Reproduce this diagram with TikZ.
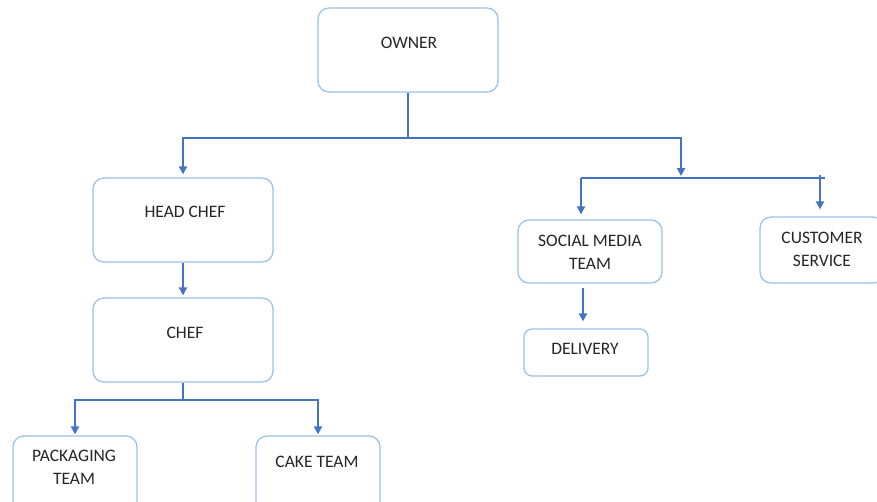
\documentclass[tikz,border=0pt]{standalone}
\usepackage{fontspec}
\setmainfont{Carlito}
\usetikzlibrary{arrows.meta,positioning}
\definecolor{boxline}{RGB}{157,195,230}
\definecolor{conn}{RGB}{68,114,196}
\definecolor{txt}{RGB}{38,38,38}

\begin{document}
\begin{tikzpicture}[
        x=1pt, y=-1pt,
        box/.style={shape=rectangle, draw=boxline, fill=white, line width=1.3pt, rounded corners=11pt},
        lbl/.style={text=txt, font=\fontsize{17.5}{23}\selectfont, align=center, inner sep=0pt},
        link/.style={line width=2pt, conn},
        arr/.style={->, >={Triangle[width=8pt,length=8pt]}, line width=2pt, conn},
        ]
        \fill[white] (0,0) rectangle (877,501);
        \useasboundingbox (0,0) rectangle (877,501);
        \clip (0,0) rectangle (877,501);
        % boxes
        \node(owner)   [box, minimum width=180, minimum height=84] at (408,50){};
        \node(headchef)[box, minimum width=180, minimum height=84] at (183,220){};
        \node(chef)    [box, minimum width=180, minimum height=84] at (183,340){};
        \node(pack)    [box, minimum width=124, minimum height=80] at (75,476){};
        \node(cake)    [box, minimum width=124, minimum height=80] at (318,476){};
        \node(social)  [box, minimum width=144, minimum height=63] at (590,251.5){};
        \node(delivery)[box, minimum width=124, minimum height=47, rounded corners=8pt] at (586,352.5){};
        \node(cust)    [box, minimum width=124, minimum height=66] at (822,250){};
        % texts
        \node(ownerT)   [lbl] at (409,43)   {OWNER};
        \node(headchefT)[lbl] at (185,212)  {HEAD CHEF};
        \node(chefT)    [lbl] at (185,333)  {CHEF};
        \node(packT)    [lbl] at (74,467.5) {PACKAGING\\TEAM};
        \node(cakeT)    [lbl] at (317,462)  {CAKE TEAM};
        \node(socialT)  [lbl] at (590,252.5){SOCIAL MEDIA\\TEAM};
        \node(deliveryT)[lbl] at (585,349)  {DELIVERY};
        \node(custT)    [lbl] at (822,249.5){CUSTOMER\\SERVICE};
        % connectors
        \coordinate(ownBus)  at (408,138);
        \coordinate(rightBus) at (681,178);
        \coordinate(rbusL)   at (581,178);
        \coordinate(rbusR)   at (825,178);
        \coordinate(custTop) at (820,175);
        \coordinate(chefBus) at (183,400);
        \draw[link](owner.south)--(ownBus);
        \draw[arr, shorten >=3pt](ownBus)-|(headchef.north);
        \draw[arr, shorten >=2pt](ownBus)-|(rightBus);
        \draw[link](rbusL)--(rbusR);
        \draw[arr, shorten >=5pt](rbusL)--(rbusL |- social.north);
        \draw[arr, shorten >=7pt](custTop)--(custTop |- cust.north);
        \draw[arr, shorten <=4pt, shorten >=7pt]([xshift=-7pt]social.south)--([xshift=-7pt]social.south |- delivery.north);
        \draw[arr, shorten >=2pt](headchef.south)--(chef.north);
        \draw[link](chef.south)--(chefBus);
        \draw[arr, shorten >=1pt](chefBus)-|(pack.north);
        \draw[arr, shorten >=1pt](chefBus)-|(cake.north);
\end{tikzpicture}
\end{document}
